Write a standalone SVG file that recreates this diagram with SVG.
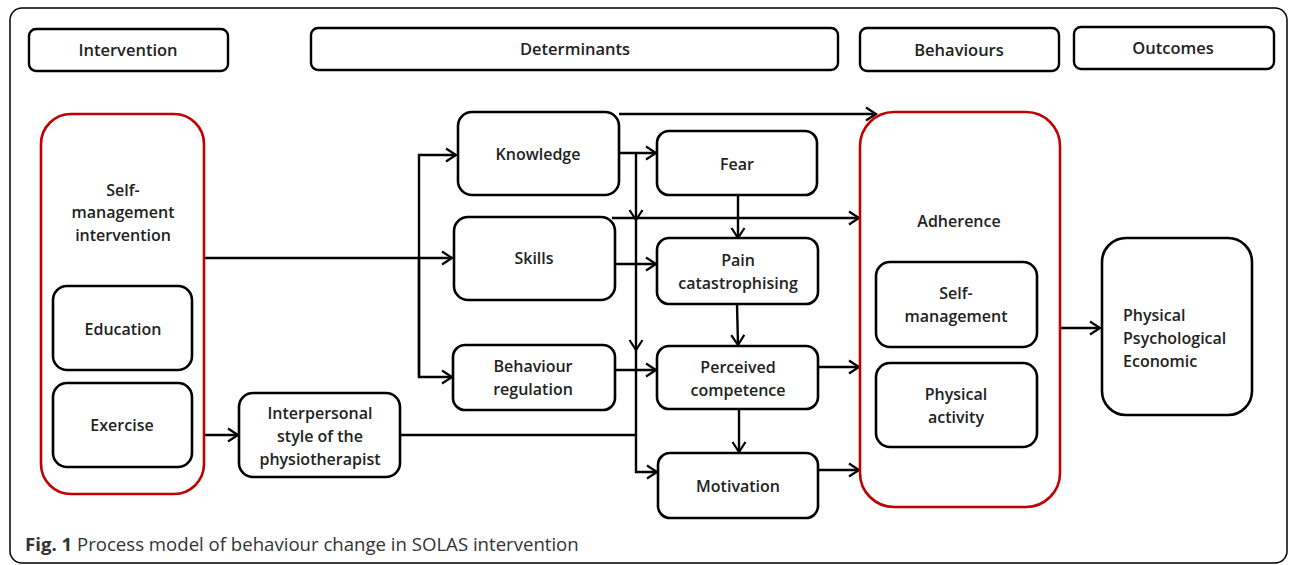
<svg xmlns="http://www.w3.org/2000/svg" width="1290" height="565" viewBox="0 0 1290 565">
<defs>
<marker id="ah" markerUnits="userSpaceOnUse" markerWidth="14" markerHeight="16" refX="11" refY="8" orient="auto">
<path d="M1,1.5 L11,8 L1,14.5" fill="none" stroke="#000" stroke-width="2.2"/>
</marker>
</defs>
<style>
.box{fill:#fff;stroke:#000;stroke-width:2.6}
.red{fill:#fff;stroke:#c00000;stroke-width:2.6}
.hdr{fill:#fff;stroke:#000;stroke-width:2.4}
.t{font-family:"Open Sans","Liberation Sans",sans-serif;font-weight:600;font-size:16px;fill:#222;text-anchor:middle}
.h{font-family:"Open Sans","Liberation Sans",sans-serif;font-weight:600;font-size:16.5px;fill:#222;text-anchor:middle}
.tl{font-family:"Open Sans","Liberation Sans",sans-serif;font-weight:600;font-size:16px;fill:#222}
.c{fill:none;stroke:#000;stroke-width:2.4}
.cap{font-family:"Open Sans","Liberation Sans",sans-serif;font-size:18.6px;fill:#333}
</style>
<rect x="10" y="8" width="1277" height="555" rx="12" fill="#fff" stroke="#000" stroke-width="1.5"/>

<g id="hdr-intervention"><rect class="hdr" x="29" y="29" width="199" height="42" rx="7"/><text class="h" x="128" y="56">Intervention</text></g>
<g id="hdr-determinants"><rect class="hdr" x="311" y="28" width="527" height="42" rx="7"/><text class="h" x="575" y="55">Determinants</text></g>
<g id="hdr-behaviours"><rect class="hdr" x="860" y="28" width="199" height="43" rx="7"/><text class="h" x="959" y="56">Behaviours</text></g>
<g id="hdr-outcomes"><rect class="hdr" x="1074" y="27" width="200" height="42" rx="7"/><text class="h" x="1173" y="54">Outcomes</text></g>

<g id="connectors">
<path class="c" d="M204,258 H452" marker-end="url(#ah)"/>
<path class="c" d="M419,377 V155 H456" marker-end="url(#ah)"/>
<path class="c" d="M419,258 V377 H452" marker-end="url(#ah)"/>
<path class="c" d="M204,435 H238" marker-end="url(#ah)"/>
<path class="c" d="M400,435 H636"/>
<path class="c" d="M619,153 H656" marker-end="url(#ah)"/>
<path class="c" d="M636,153 V220" marker-end="url(#ah)"/>
<path class="c" d="M636,218 V350" marker-end="url(#ah)"/>
<path class="c" d="M636,348 V472 H657" marker-end="url(#ah)"/>
<path class="c" d="M619,114 H876" marker-end="url(#ah)"/>
<path class="c" d="M612,218 H859" marker-end="url(#ah)"/>
<path class="c" d="M615,264 H656" marker-end="url(#ah)"/>
<path class="c" d="M738,195 V238" marker-end="url(#ah)"/>
<path class="c" d="M737,304 L738,345" marker-end="url(#ah)"/>
<path class="c" d="M615,370 H656" marker-end="url(#ah)"/>
<path class="c" d="M739,409 V452" marker-end="url(#ah)"/>
<path class="c" d="M818,367 H859" marker-end="url(#ah)"/>
<path class="c" d="M818,470 H859" marker-end="url(#ah)"/>
<path class="c" d="M1060,328 H1100" marker-end="url(#ah)"/>
</g>

<g id="self-management-intervention"><rect class="red" x="41" y="114" width="163" height="380" rx="30"/>
<text class="t" x="123" y="196">Self-</text><text class="t" x="123" y="218">management</text><text class="t" x="123" y="241">intervention</text></g>
<g id="education"><rect class="box" x="53" y="286" width="139" height="84" rx="14"/><text class="t" x="123" y="335">Education</text></g>
<g id="exercise"><rect class="box" x="53" y="383" width="139" height="84" rx="14"/><text class="t" x="122" y="431">Exercise</text></g>
<g id="interpersonal"><rect class="box" x="239" y="393" width="161" height="84" rx="14"/>
<text class="t" x="320" y="419">Interpersonal</text><text class="t" x="320" y="442">style of the</text><text class="t" x="320" y="465">physiotherapist</text></g>

<g id="knowledge"><rect class="box" x="458" y="112" width="161" height="83" rx="14"/><text class="t" x="538" y="160">Knowledge</text></g>
<g id="skills"><rect class="box" x="454" y="217" width="161" height="83" rx="14"/><text class="t" x="534" y="264">Skills</text></g>
<g id="behaviour-regulation"><rect class="box" x="453" y="345" width="162" height="65" rx="12"/>
<text class="t" x="533" y="372">Behaviour</text><text class="t" x="533" y="395">regulation</text></g>
<g id="fear"><rect class="box" x="657" y="131" width="160" height="64" rx="12"/><text class="t" x="737" y="170">Fear</text></g>
<g id="pain-catastrophising"><rect class="box" x="657" y="238" width="161" height="66" rx="12"/>
<text class="t" x="738" y="266">Pain</text><text class="t" x="738" y="289">catastrophising</text></g>
<g id="perceived-competence"><rect class="box" x="657" y="346" width="161" height="63" rx="12"/>
<text class="t" x="738" y="373">Perceived</text><text class="t" x="738" y="396">competence</text></g>
<g id="motivation"><rect class="box" x="658" y="453" width="160" height="65" rx="12"/><text class="t" x="738" y="492">Motivation</text></g>

<g id="adherence"><rect class="red" x="860" y="112" width="200" height="395" rx="34"/><text class="t" x="959" y="227">Adherence</text></g>
<g id="adherence-self-management"><rect class="box" x="876" y="262" width="161" height="85" rx="14"/>
<text class="t" x="956" y="299">Self-</text><text class="t" x="956" y="322">management</text></g>
<g id="physical-activity"><rect class="box" x="876" y="363" width="161" height="84" rx="14"/>
<text class="t" x="956" y="400">Physical</text><text class="t" x="956" y="423">activity</text></g>
<g id="outcomes"><rect class="box" x="1102" y="238" width="150" height="177" rx="24"/>
<text class="tl" x="1123" y="321">Physical</text><text class="tl" x="1123" y="344">Psychological</text><text class="tl" x="1123" y="367">Economic</text></g>

<text class="cap" x="25" y="551"><tspan font-weight="700">Fig. 1</tspan> Process model of behaviour change in SOLAS intervention</text>
</svg>
